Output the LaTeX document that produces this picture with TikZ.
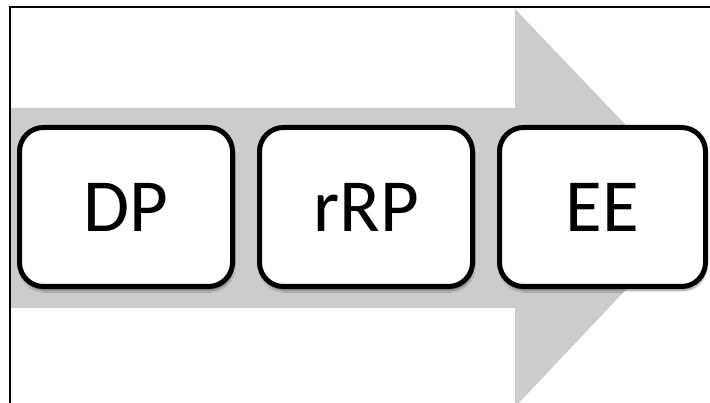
\documentclass[tikz,border=0pt]{standalone}
\usepackage{fontspec}
\setmainfont{Carlito}
\usetikzlibrary{positioning,shadows.blur}

\begin{document}
\begin{tikzpicture}[x=1pt,y=1pt,
    stage/.style={draw, line width=5pt, rounded corners=24pt, fill=white,
        minimum width=213pt, minimum height=159pt, inner sep=0pt,
        font=\fontsize{75}{80}\selectfont,
        blur shadow={shadow xshift=1pt, shadow yshift=-4pt, shadow blur steps=6, shadow opacity=45}}]
    \useasboundingbox (0,0) rectangle (710,403);
    \clip (0,0) rectangle (710,403);
    % big arrow
    \fill[gray!40] (10,295) -- (515,295) -- (515,394) -- (704,196) -- (515,-4) -- (515,95) -- (10,95) -- cycle;
    % frame
    \draw[line width=2pt] (10,-2) -- (10,396) -- (712,396);
    % stages
    \node[stage] (dp) at (126,196) {DP};
    \node[stage, right=22pt of dp] (rrp) {rRP};
    \node[stage, minimum width=206pt, right=22pt of rrp] (ee) {EE};
\end{tikzpicture}
\end{document}
